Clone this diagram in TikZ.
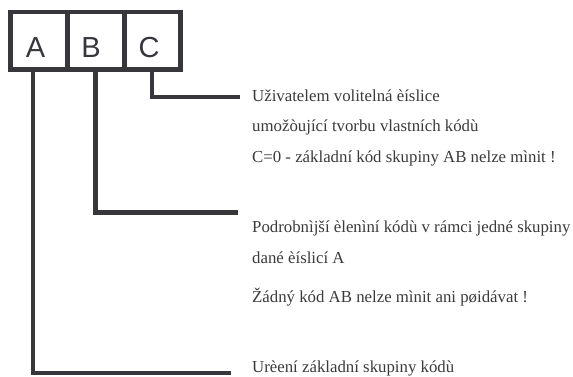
\documentclass[tikz,border=0pt]{standalone}
\usepackage{fontspec}
\newfontfamily\notefont{Liberation Serif}
\newfontfamily\boxfont{Liberation Sans}
\definecolor{linegray}{HTML}{37363B}
\definecolor{textgray}{HTML}{3A3A3A}
\begin{document}
\begin{tikzpicture}[x=1pt,y=-1pt,
		box/.style={draw=linegray,line width=4.5pt,minimum height=57.5pt,inner sep=0pt,outer sep=0pt},
		letter/.style={anchor=base,inner sep=0pt,text=linegray,font=\boxfont\fontsize{29}{29}\selectfont},
		wire/.style={draw=linegray,line width=4.5pt},
		note/.style={anchor=base west,inner sep=0pt,text=textgray,font=\notefont\fontsize{16.8}{20}\selectfont}]
		\useasboundingbox (0,0) rectangle (573,377);
		\node[box,minimum width=57pt] (A) at (39,40.75) {};
		\node[box,minimum width=57pt] (B) at (96,40.75) {};
		\node[box,minimum width=56pt] (C) at (152.5,40.75) {};
		\node[letter] (lA) at (35.5,58) {A};
		\node[letter] (lB) at (91,58) {B};
		\node[letter] (lC) at (149,58) {C};
		% popisky
		\node[note] (c1) at (252,102) {Uživatelem volitelná èíslice};
		\node[note] (c2) at (252,132) {umožòující tvorbu vlastních kódù};
		\node[note] (c3) at (252,162) {C=0 - základní kód skupiny AB nelze mìnit !};
		\node[note] (b1) at (252,232) {Podrobnìjší èlenìní kódù v rámci jedné skupiny};
		\node[note] (b2) at (252,263) {dané èíslicí A};
		\node[note] (b3) at (252,302) {Žádný kód AB nelze mìnit ani pøidávat !};
		\node[note] (a1) at (252,372.5) {Urèení základní skupiny kódù};
		% vodici cary
		\coordinate (endC) at (240,97);
		\coordinate (endB) at (238,212.5);
		\coordinate (endA) at (231,373);
		\draw[wire] ([xshift=-0.5pt]C.south) |- (endC);
		\draw[wire] ([xshift=-0.5pt]B.south) |- (endB);
		\draw[wire] ([xshift=-6pt]A.south) |- (endA);
\end{tikzpicture}
\end{document}
